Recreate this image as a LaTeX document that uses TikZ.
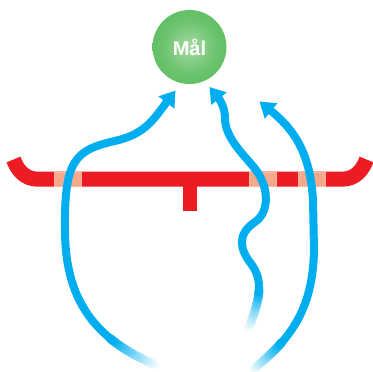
\documentclass[tikz,border=0pt]{standalone}
\usepackage{fontspec}
\newfontfamily\labfont{Liberation Sans}
\usetikzlibrary{arrows.meta}
\definecolor{blueline}{HTML}{00AEEF}
\definecolor{redbar}{HTML}{ED1C24}
\definecolor{salmon}{HTML}{F9A98B}
\definecolor{salmonedge}{HTML}{F7B8A2}
\definecolor{ballin}{HTML}{A6DBA2}
\definecolor{ballmid}{HTML}{6CC36E}
\definecolor{ballout}{HTML}{3DB54A}
\pgfdeclareradialshading{goalshade}{\pgfpoint{0bp}{0bp}}{color(0bp)=(ballin); color(18bp)=(ballmid); color(50bp)=(ballout)}
\tikzset{
  flow/.style={draw=blueline, line width=8pt, -{Triangle[length=15pt,width=19pt]}},
  barline/.style={draw=redbar, line width=15pt},
  patch/.style={fill=salmon, draw=salmonedge, line width=0.6pt},
  goalball/.style={circle, minimum size=74pt, inner sep=0pt, shade, shading=goalshade, text=white, font=\labfont\bfseries\fontsize{20}{24}\selectfont}
}
\newcommand\tailfade[6]{%
  \foreach \k [evaluate=\k as \t using \k*#6/16] in {0,...,16}{%
    \path #2 .. controls #3 and #4 .. #5 coordinate[pos=\t] (#1\k);}%
  \foreach \k [evaluate=\k as \kk using int(\k+1), evaluate=\k as \pc using int(100*\k/15)] in {0,...,15}{%
    \draw[line width=8.8pt, line cap=round, blueline!\pc!white] (#1\k) -- (#1\kk);}%
}
\begin{document}
\begin{tikzpicture}[x=1pt, y=-1pt]
\useasboundingbox (0,0) rectangle (373,372);
% bar
\coordinate (bl) at (13.5,159.5);
\coordinate (br) at (366.5,159.5);
\draw[barline] (bl) .. controls (17,169) and (24,179.2) .. (38,179.2) -- (342,179.2) .. controls (356,179.2) and (363,169) .. (br);
\fill[redbar] (183,179) rectangle (197,211);
\draw[patch] (54.3,172) rectangle (81.7,186.4);
\draw[patch] (249.3,172) rectangle (276.7,186.4);
\draw[patch] (298.3,172) rectangle (325.7,186.4);
% goal
\node[goalball] (goal) at (189.5,47) {Mål};
% flows
\coordinate (l1s) at (158,366);
\coordinate (l1t) at (175.5,90.5);
\coordinate (l2s) at (248,330);
\coordinate (l2t) at (209.5,87);
\coordinate (l3s) at (252,370);
\coordinate (l3t) at (259.5,101.5);
\draw[flow] (l1s) .. controls (95,340) and (65,300) .. (65,230) .. controls (64,160) and (75,150) .. (115,141) .. controls (140,135) and (150,125) .. (163,107) -- (l1t);
\draw[flow] (l2s) .. controls (262,295) and (262,280) .. (252,265) .. controls (240,250) and (236,235) .. (255,222) .. controls (270,212) and (270,185) .. (252,165) .. controls (238,149) and (225,135) .. (225,118) .. controls (225,108) and (220,100) .. (l2t);
\draw[flow] (l3s) .. controls (290,340) and (313,310) .. (314,250) -- (313,200) .. controls (310,150) and (292,128) .. (l3t);
\tailfade{fa}{(l1s)}{(95,340)}{(65,300)}{(65,230)}{0.3}
\tailfade{fb}{(l2s)}{(262,295)}{(262,280)}{(252,265)}{0.5}
\tailfade{fc}{(l3s)}{(290,340)}{(313,310)}{(314,250)}{0.3}
\end{tikzpicture}
\end{document}
